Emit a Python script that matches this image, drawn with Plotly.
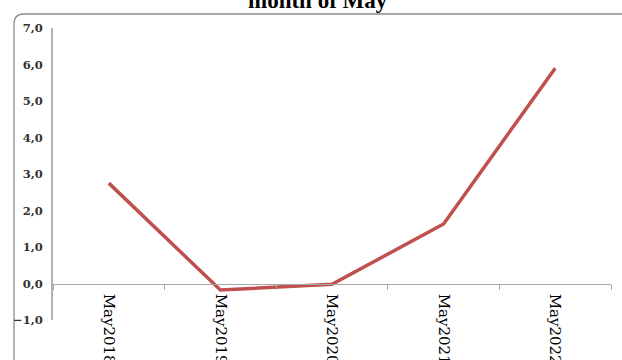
import plotly.graph_objects as go

categories = ["May2018", "May2019", "May2020", "May2021", "May2022"]
values = [2.75, -0.18, -0.02, 1.63, 5.9]
y_ticks = [-1, 0, 1, 2, 3, 4, 5, 6, 7]
title_text = "month of May"

W, H = 622, 360
ML, MR, MT, MB = 53, 11, 28, 40
PW, PH = W - ML - MR, H - MT - MB


def px_x(p):
    return (p - ML) / PW


def px_y(p):
    return (H - MB - p) / PH


fig = go.Figure()
fig.add_trace(go.Scatter(
    x=categories, y=values, mode="lines",
    line=dict(color="#C0504D", width=3.5),
    hoverinfo="skip", showlegend=False,
))

# rounded chart border (cropped by the figure edge)
border = (f"M {px_x(14)},{px_y(420)} L {px_x(14)},{px_y(24)} "
          f"Q {px_x(14)},{px_y(14)} {px_x(24)},{px_y(14)} L {px_x(660)},{px_y(14)}")
fig.add_shape(type="path", path=border, xref="paper", yref="paper",
              line=dict(color="#8c8c8c", width=1.3), layer="below")

fig.add_annotation(
    text=f"<b>{title_text}</b>", xref="paper", yref="paper",
    x=px_x(318), y=px_y(15), xanchor="center", yanchor="bottom",
    showarrow=False, font=dict(family="Liberation Serif", size=23, color="#000000"),
)

fig.update_layout(
    width=W, height=H,
    margin=dict(l=ML, r=MR, t=MT, b=MB),
    paper_bgcolor="white", plot_bgcolor="white",
    separators=",.",
    xaxis=dict(
        type="category", anchor="free", position=0.125, automargin=False,
        showline=True, linecolor="#a6a6a6", linewidth=1.3,
        ticks="outside", tickson="boundaries", ticklen=5, tickcolor="#a6a6a6",
        tickangle=90, showgrid=False, zeroline=False, ticklabelstandoff=6,
        tickfont=dict(family="DejaVu Serif", size=15, color="#000000"),
        range=[-0.5, 4.5],
    ),
    yaxis=dict(
        range=[-1, 7], tickvals=y_ticks, tickformat=".1f", automargin=False,
        showline=True, linecolor="#b3b3b3", linewidth=2,
        showgrid=False, zeroline=False, ticks="", ticklabelstandoff=6,
        tickfont=dict(family="DejaVu Serif", size=11.5, color="#333333", weight="bold"),
    ),
)

fig.write_html("out.html")
